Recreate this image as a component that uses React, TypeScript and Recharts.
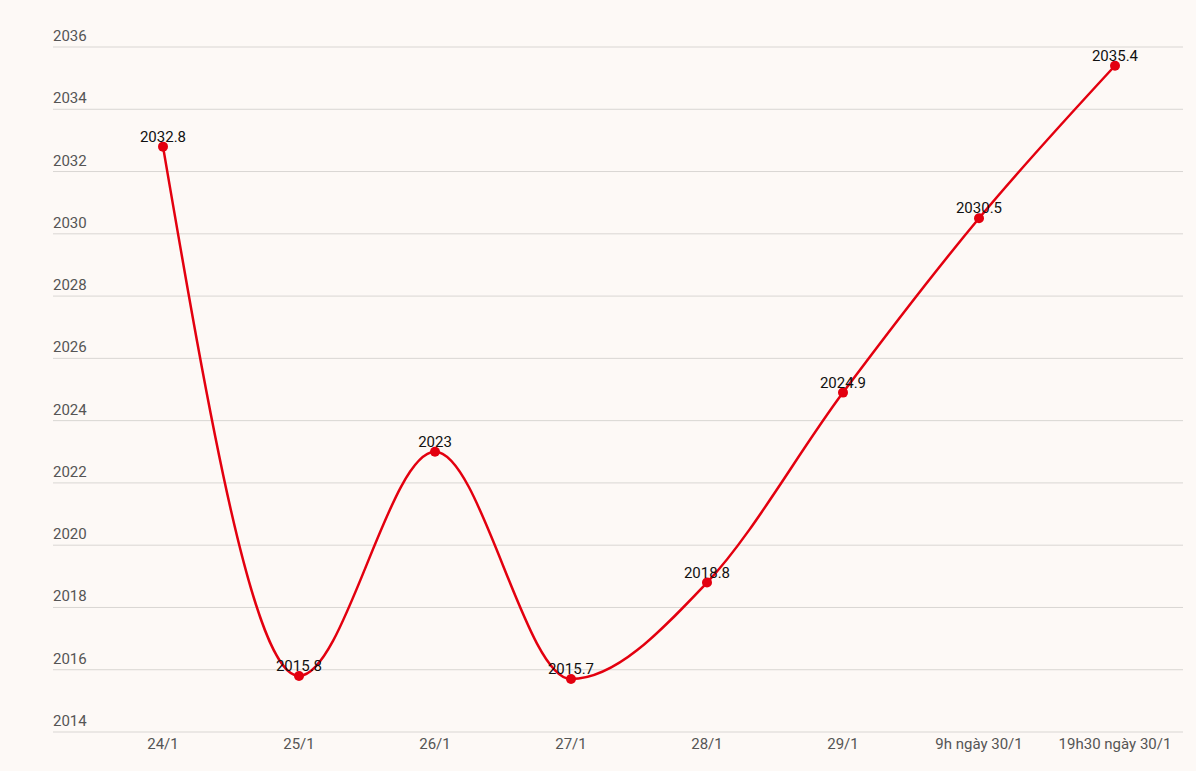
import React from "react";
import { LineChart, Line, XAxis, YAxis, CartesianGrid, LabelList } from "recharts";

const days = ["24/1", "25/1", "26/1", "27/1", "28/1", "29/1", "9h ngày 30/1", "19h30 ngày 30/1"];
const prices = [2032.8, 2015.8, 2023, 2015.7, 2018.8, 2024.9, 2030.5, 2035.4];
const yTicks = [2014, 2016, 2018, 2020, 2022, 2024, 2026, 2028, 2030, 2032, 2034, 2036];

const data = days.map((d, i) => ({ day: d, price: prices[i] }));

const FONT = "Roboto, 'Noto Sans', sans-serif";

function YTick(props: any) {
    const { x, y, payload } = props;
    return (
        <text x={x} y={y - 10} textAnchor="start" dominantBaseline="middle" fill="#555" fontSize={15} fontFamily={FONT}>
            {payload.value}
        </text>
    );
}

export default function App() {
    return (
        <div style={{ position: "absolute", left: 0, top: 0, width: 1196, height: 771, background: "#fdf9f6" }}>
            <LineChart width={1196} height={771} data={data} margin={{ top: 47, right: 13, left: 0, bottom: 9 }}>
                <CartesianGrid vertical={false} stroke="#d9d6d3" strokeWidth={1} />
                <XAxis
                    dataKey="day"
                    axisLine={false}
                    tickLine={false}
                    tickSize={0}
                    tickMargin={6}
                    height={30}
                    padding={{ left: 110, right: 68 }}
                    tick={{ fill: "#555", fontSize: 15, fontFamily: FONT }}
                />
                <YAxis
                    domain={[2014, 2036]}
                    ticks={yTicks}
                    width={53}
                    axisLine={false}
                    tickLine={false}
                    tickSize={0}
                    tickMargin={0}
                    interval={0}
                    tick={(p: any) => <YTick {...p} />}
                />
                <Line
                    type="monotone"
                    dataKey="price"
                    stroke="#e3000f"
                    strokeWidth={2.5}
                    dot={{ r: 5, fill: "#e3000f", stroke: "#e3000f", strokeWidth: 0 }}
                    activeDot={false}
                    isAnimationActive={false}
                >
                    <LabelList dataKey="price" position="top" offset={5} fill="#111" fontSize={15} fontFamily={FONT} />
                </Line>
            </LineChart>
        </div>
    );
}
